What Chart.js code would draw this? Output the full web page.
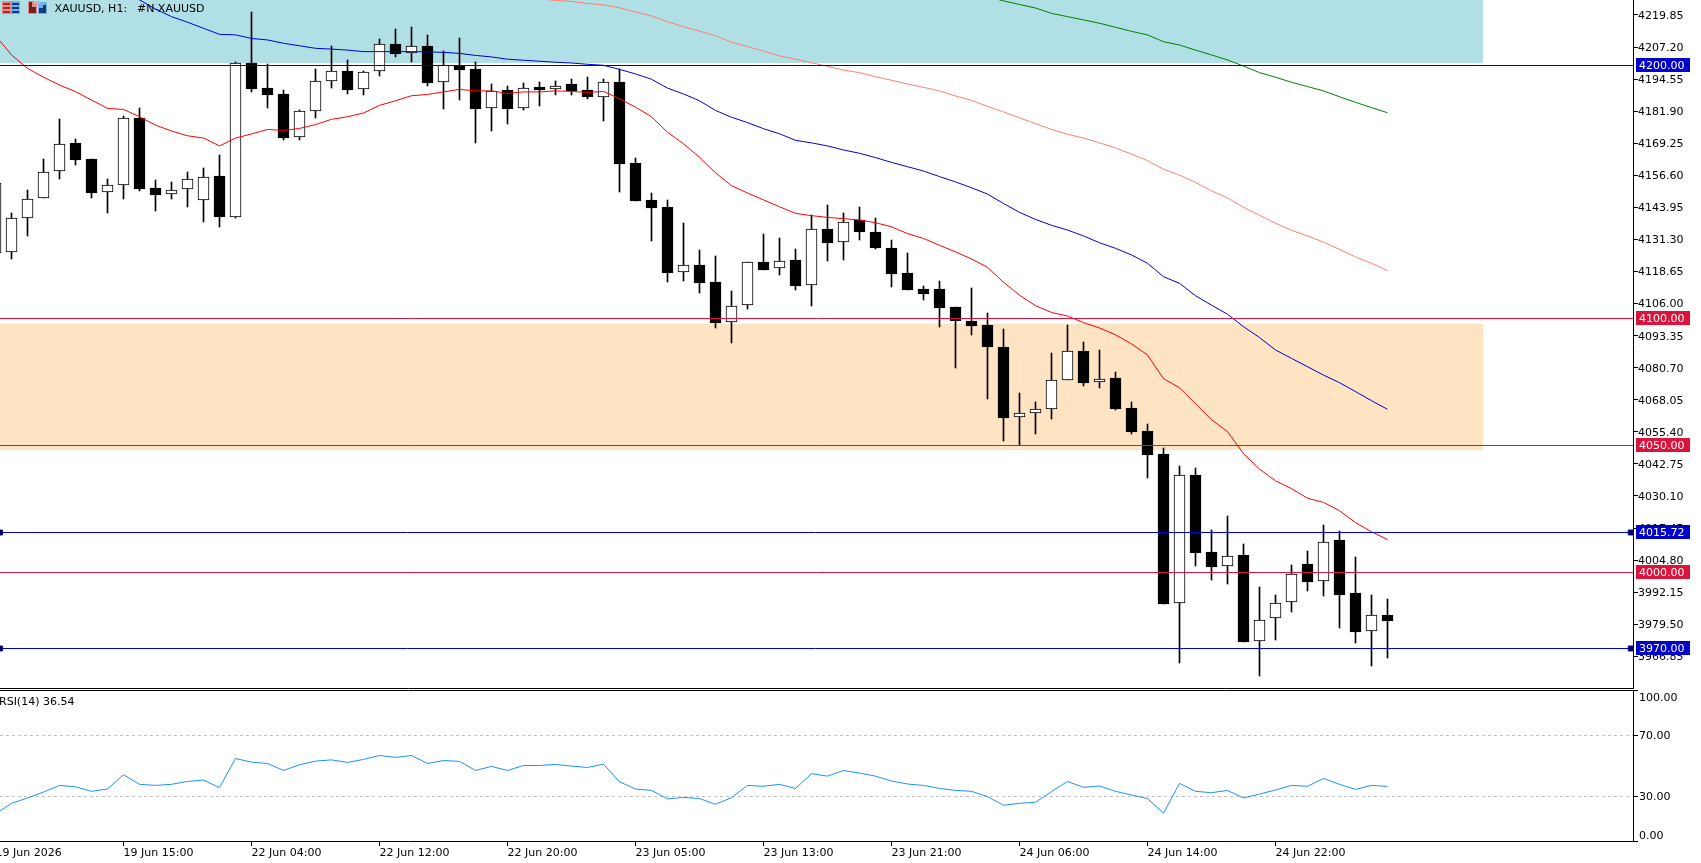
<!DOCTYPE html>
<html>
<head>
<meta charset="utf-8">
<title>XAUUSD H1</title>
<style>
  html, body { margin: 0; padding: 0; background: #fff; overflow: hidden; }
  #wrap { position: relative; width: 1701px; height: 863px; background: #fff; }
  canvas { position: absolute; left: 0; }
  #priceCanvas { top: 0; }
  #rsiCanvas { top: 688px; }
</style>
<script src="https://cdn.jsdelivr.net/npm/chart.js@4/dist/chart.umd.min.js"></script>
</head>
<body>
<div id="wrap">
  <canvas id="priceCanvas" width="1701" height="689"></canvas>
  <canvas id="rsiCanvas" width="1701" height="175"></canvas>
</div>
<script>
// Hourly XAUUSD candles, oldest first
const opens = [4125.8,4126.2,4139.6,4147.5,4158.2,4169.2,4162.9,4149.9,4152.6,4179.2,4151.5,4149.1,4151.1,4146.7,4156.2,4140.3,4200.8,4190.9,4188.5,4171.6,4181.8,4193.7,4197.6,4190.5,4197.6,4208.3,4204.7,4207.5,4193.3,4199.9,4198.4,4183.0,4190.1,4183.0,4191.3,4190.5,4192.5,4190.1,4187.4,4193.3,4161.3,4146.7,4144.0,4118.3,4121.1,4114.4,4098.6,4105.3,4122.3,4119.9,4123.1,4113.2,4135.3,4130.2,4139.1,4134.1,4127.8,4117.9,4111.6,4111.6,4104.5,4099.1,4097.4,4088.9,4061.1,4062.7,4064.3,4075.7,4087.2,4074.9,4076.5,4064.7,4055.6,4046.7,3987.7,4038.4,4007.9,4002.3,4006.7,3972.8,3981.8,3988.1,4003.1,3996.4,4012.6,3991.7,3976.7,3983.0];
const highs = [4153.7,4141.6,4150.8,4163.0,4178.7,4170.8,4162.9,4155.0,4179.9,4183.0,4154.6,4153.8,4157.8,4159.4,4164.5,4201.2,4220.9,4200.4,4190.1,4182.2,4198.4,4207.5,4202.0,4197.6,4210.2,4214.2,4215.0,4211.8,4205.5,4210.6,4201.2,4192.5,4191.7,4192.9,4193.3,4193.7,4194.5,4195.3,4194.5,4198.4,4163.3,4149.5,4146.7,4137.7,4127.0,4124.6,4110.8,4122.3,4133.3,4131.7,4127.4,4140.8,4144.8,4141.6,4144.0,4139.6,4131.0,4125.8,4112.8,4114.8,4104.5,4112.0,4102.2,4095.8,4070.6,4067.0,4086.4,4097.4,4090.7,4087.6,4078.9,4067.0,4058.4,4049.0,4041.8,4041.0,4016.5,4022.1,4011.0,3994.1,3990.9,4002.7,4008.3,4018.5,4016.2,4005.9,3990.9,3989.3];
const lows = [4125.8,4123.5,4132.8,4147.5,4155.3,4160.8,4147.8,4141.9,4147.4,4150.5,4142.7,4147.4,4144.2,4138.3,4136.3,4139.9,4189.6,4183.3,4170.7,4170.7,4179.3,4191.2,4188.8,4188.4,4195.9,4203.4,4201.4,4192.0,4182.9,4186.4,4169.5,4174.2,4177.0,4182.5,4184.1,4188.4,4188.4,4186.8,4178.2,4150.2,4146.6,4130.8,4114.6,4115.0,4110.3,4096.5,4090.6,4104.0,4119.4,4117.4,4111.5,4105.2,4122.9,4123.3,4131.2,4127.7,4112.7,4111.5,4107.5,4096.9,4080.7,4093.7,4068.5,4051.9,4050.1,4054.7,4060.6,4075.7,4073.6,4072.8,4064.2,4054.7,4037.3,3987.6,3964.3,4002.6,3997.1,3995.5,3972.6,3959.2,3973.4,3984.5,3992.7,3990.8,3978.2,3972.2,3963.2,3966.3];
const closes = [4153.7,4139.6,4147.4,4158.0,4169.1,4162.8,4149.8,4152.6,4179.1,4151.3,4149.0,4150.9,4155.3,4156.1,4140.3,4200.8,4190.8,4188.4,4171.5,4181.8,4193.7,4197.6,4190.4,4197.2,4208.3,4204.6,4207.5,4193.2,4200.0,4198.3,4182.9,4189.7,4182.9,4191.2,4190.3,4191.7,4189.9,4187.6,4193.3,4161.2,4146.6,4143.8,4118.2,4121.1,4114.2,4098.5,4105.2,4122.3,4119.4,4122.9,4113.1,4135.6,4130.0,4138.3,4134.4,4128.1,4117.8,4111.5,4109.9,4104.4,4099.3,4097.3,4089.0,4061.0,4062.7,4064.3,4075.7,4087.2,4074.8,4076.1,4064.5,4055.5,4046.4,3987.6,4038.2,4007.7,4002.2,4006.6,3972.6,3981.3,3988.0,3999.2,3996.3,4012.1,3991.2,3976.6,3983.3,3980.9];

// Moving averages; each one begins at the bar index named next to it
const redMA = [4211.7,4204.1,4198.8,4195.3,4192.2,4189.6,4186.3,4183.0,4182.6,4179.7,4176.4,4174.1,4172.2,4171.3,4168.2,4171.3,4172.9,4174.7,4174.3,4175.1,4176.6,4178.7,4179.7,4181.2,4184.2,4186.0,4188.0,4188.5,4189.5,4190.5,4189.9,4189.9,4188.9,4189.5,4189.5,4189.9,4189.7,4189.3,4189.7,4186.8,4183.5,4179.7,4173.6,4169.0,4163.7,4157.6,4152.5,4149.6,4146.9,4144.2,4141.6,4140.7,4140.0,4139.5,4139.0,4137.9,4136.3,4133.6,4131.7,4129.0,4126.4,4123.6,4120.3,4114.4,4109.3,4105.2,4102.5,4101.1,4098.5,4096.4,4093.7,4090.1,4085.7,4076.4,4072.8,4066.5,4060.2,4055.5,4046.8,4040.7,4036.1,4033.0,4029.2,4027.6,4024.3,4019.6,4016.0,4012.9];
const redStart = 0;
const blueMA = [4229.7,4225.8,4222.2,4219.2,4217.0,4214.6,4212.2,4212.0,4210.6,4210.0,4208.7,4207.7,4206.7,4206.4,4206.0,4205.4,4205.4,4205.4,4205.4,4205.3,4205.1,4204.7,4203.9,4203.3,4202.4,4202.0,4201.6,4201.2,4200.9,4200.4,4200.0,4198.4,4196.6,4194.5,4191.0,4188.7,4186.0,4182.2,4179.5,4177.4,4175.0,4173.0,4170.4,4169.4,4168.2,4166.6,4165.3,4163.6,4161.7,4160.0,4158.3,4156.1,4154.0,4151.7,4149.2,4145.5,4142.0,4139.2,4136.9,4135.0,4132.7,4130.0,4127.8,4125.2,4121.9,4116.6,4114.0,4109.1,4105.4,4101.8,4096.9,4092.6,4087.7,4084.4,4081.1,4077.8,4074.8,4071.3,4067.7,4064.3];
const blueStart = 8;
const salmonMA = [4226.2,4225.6,4225.2,4224.4,4223.8,4222.7,4221.0,4219.5,4217.2,4215.2,4213.5,4211.6,4209.1,4207.4,4205.6,4203.7,4202.4,4201.0,4199.6,4198.1,4197.1,4195.5,4194.1,4192.6,4191.3,4189.9,4187.9,4186.2,4183.8,4181.6,4179.3,4177.0,4174.7,4172.8,4171.3,4169.4,4167.4,4165.0,4162.4,4159.0,4156.7,4153.8,4150.5,4147.7,4144.0,4140.8,4137.7,4134.9,4132.7,4130.2,4127.4,4124.4,4121.9,4119.0];
const salmonStart = 34;
const greenMA = [4227.1,4225.4,4224.0,4222.6,4220.5,4219.2,4217.9,4216.6,4215.0,4213.4,4212.0,4209.3,4208.0,4206.0,4204.1,4202.1,4199.7,4197.1,4195.3,4193.3,4191.6,4189.9,4187.6,4185.4,4183.3,4181.3];
const greenStart = 62;

// RSI(14), one value per bar
const rsiValues = [18.4,25.4,28.9,32.8,37.2,36.3,33.3,34.8,44.2,37.9,37.2,37.9,39.8,40.7,35.7,54.9,52.5,51.6,47.0,50.8,53.2,54.0,52.3,54.3,56.9,55.6,56.9,51.6,53.6,53.0,47.0,49.7,47.0,50.3,50.3,51.0,49.9,49.0,51.2,39.6,34.8,33.9,28.3,29.3,28.5,24.8,29.1,37.2,36.6,37.9,35.2,44.9,43.3,47.0,45.3,43.3,40.1,38.1,37.2,35.2,33.9,33.3,29.8,24.1,25.4,26.1,33.1,39.8,35.9,36.8,33.3,30.9,28.5,18.9,38.5,33.3,32.4,33.9,28.9,31.5,34.2,37.2,36.6,41.8,37.9,34.6,37.2,36.54];
const rsiTitle = 'RSI(14) 36.54';

// Axis ticks and labels
const priceTicks = [4219.85,4207.20,4194.55,4181.90,4169.25,4156.60,4143.95,4131.30,4118.65,4106.00,4093.35,4080.70,4068.05,4055.40,4042.75,4030.10,4017.45,4004.80,3992.15,3979.50,3966.85];
const rsiTicks = [100,70,30,0];
const rsiGuides = [70,30];
const timeTicks = [0,8,16,24,32,40,48,56,64,72,80];
const timeLabels = ['19 Jun 2026','19 Jun 15:00','22 Jun 04:00','22 Jun 12:00','22 Jun 20:00','23 Jun 05:00','23 Jun 13:00','23 Jun 21:00','24 Jun 06:00','24 Jun 14:00','24 Jun 22:00'];

// Horizontal price levels
const bluePrices = [4200.00,4015.72,3970.00];
const redPrices = [4100.00,4050.00,4000.00];
const handledPrices = [4015.72,3970.00];

// Shaded supply and demand zones, as [low, high] prices
const supplyZone = [4200.9,4230.0];
const demandZone = [4048.2,4097.9];

// Visible ranges of the two panels
const priceMin = 3954.36, priceMax = 4225.76;
const barMin = 0.28125, barMax = 102.34375, zoneEnd = 92.97, handleBar = 102.2;

const BLUE = '#0000CD', CRIMSON = '#DC143C';
const FONT = '11px "DejaVu Sans"';
const AXIS_WIDTH = 68;
const MA_WIDTH = 1;

// Candle edges land on whole pixels so bodies stay crisp
class CandleScale extends Chart.LinearScale {
  getPixelForValue(v) { return Math.round(super.getPixelForValue(v)); }
}
CandleScale.id = 'candleScale';
// Level lines land on pixel centres so a 1px stroke fills one row
class LevelScale extends Chart.LinearScale {
  getPixelForValue(v) { return Math.floor(super.getPixelForValue(v)) + 0.5; }
}
LevelScale.id = 'levelScale';
Chart.register(CandleScale, LevelScale);

Chart.defaults.font.family = '"DejaVu Sans"';
Chart.defaults.font.size = 11;
Chart.defaults.color = '#000';

const bars = opens.map((_, i) => i);
const maPoints = (values, start) => values.map((y, k) => ({ x: start + k, y }));
const isUp = i => closes[i] >= opens[i];

function zoneDataset(zone, color) {
  return {
    type: 'line', order: 5, yAxisID: 'yCandle',
    data: [{ x: barMin, y: zone[1] }, { x: zoneEnd, y: zone[1] }],
    fill: { value: zone[0] }, backgroundColor: color,
    borderWidth: 0, pointRadius: 0
  };
}
function levelDataset(price, color) {
  const handled = handledPrices.includes(price);
  const xs = handled ? [barMin, handleBar, barMax] : [barMin, barMax];
  return {
    type: 'line', order: 1, yAxisID: 'yLevel',
    data: xs.map(x => ({ x, y: price })),
    borderColor: color, borderWidth: 1,
    pointStyle: 'rect',
    pointRadius: handled ? [3.5, 3.5, 0] : 0,
    pointBackgroundColor: '#000', pointBorderColor: color, pointBorderWidth: 1
  };
}
function maDataset(values, start, color) {
  return {
    type: 'line', order: 2, yAxisID: 'y',
    data: maPoints(values, start),
    borderColor: color, borderWidth: MA_WIDTH, pointRadius: 0, tension: 0
  };
}

const fixedWidth = s => { s.width = AXIS_WIDTH; s.paddingTop = 0; s.paddingBottom = 0; };

// Toolbar glyphs and caption in the top-left corner of the price panel
const pricePanelDecor = {
  id: 'pricePanelDecor',
  afterDraw(chart) {
    const { ctx, scales } = chart;
    ctx.save();
    // first glyph: two stacked-row blocks
    ctx.fillStyle = '#E98A8A'; ctx.fillRect(2, 1, 9, 13);
    ctx.fillStyle = '#6FB0F0'; ctx.fillRect(11, 1, 9, 13);
    ctx.fillStyle = '#A82A2A';
    [3, 7, 11].forEach(r => ctx.fillRect(3, r, 7, 2));
    ctx.fillStyle = '#123A78';
    [3, 7, 11].forEach(r => ctx.fillRect(12, r, 7, 2));
    // second glyph: paired bars
    ctx.fillStyle = '#E98A8A'; ctx.fillRect(28, 1, 9, 13);
    ctx.fillStyle = '#6FB0F0'; ctx.fillRect(38, 2, 9, 12);
    ctx.fillStyle = '#6E2020'; ctx.fillRect(29, 2, 3, 11); ctx.fillRect(32, 7, 4, 6);
    ctx.fillStyle = '#123A78'; ctx.fillRect(43, 5, 3, 8); ctx.fillRect(39, 8, 4, 5);
    ctx.fillStyle = '#BDBDBD'; ctx.fillRect(34, 1, 6, 3);
    // caption
    ctx.font = FONT; ctx.fillStyle = '#000';
    ctx.textAlign = 'left'; ctx.textBaseline = 'middle';
    ctx.fillText('XAUUSD, H1:', 54.5, 9.5);
    ctx.fillText('#N-XAUUSD', 137, 9.5);
    // price tags on the axis
    const tag = (price, color) => {
      const y = scales.yLevel.getPixelForValue(price) - 0.5;
      ctx.fillStyle = color; ctx.fillRect(1636, y - 7, 54, 14);
      ctx.fillStyle = '#fff';
      ctx.textBaseline = 'middle';
      ctx.fillText(price.toFixed(2), 1639, y + 1);
    };
    bluePrices.forEach(p => tag(p, BLUE));
    redPrices.forEach(p => tag(p, CRIMSON));
    ctx.restore();
  }
};

new Chart(document.getElementById('priceCanvas'), {
  type: 'bar',
  plugins: [pricePanelDecor],
  data: {
    datasets: [
      ...bluePrices.map(p => levelDataset(p, BLUE)),
      ...redPrices.map(p => levelDataset(p, CRIMSON)),
      maDataset(redMA, redStart, '#FF0000'),
      maDataset(blueMA, blueStart, BLUE),
      maDataset(salmonMA, salmonStart, '#FA8072'),
      maDataset(greenMA, greenStart, '#008000'),
      {
        order: 3, yAxisID: 'yCandle', grouped: false, barThickness: 11,
        data: bars.map(i => ({ x: i, y: [opens[i], closes[i]] })),
        backgroundColor: bars.map(i => isUp(i) ? '#fff' : '#000'),
        borderColor: '#000', borderWidth: 1, borderSkipped: false
      },
      {
        order: 4, yAxisID: 'yCandle', grouped: false, barThickness: 1,
        data: bars.map(i => ({ x: i, y: [lows[i], highs[i]] })),
        backgroundColor: '#000', borderWidth: 0
      },
      zoneDataset(supplyZone, '#B0E0E6'),
      zoneDataset(demandZone, '#FFE4C4')
    ]
  },
  options: {
    responsive: false, animation: false, devicePixelRatio: 1, events: [],
    layout: { padding: 0, autoPadding: false },
    plugins: { legend: { display: false }, tooltip: { enabled: false } },
    scales: {
      x: {
        type: 'linear', offset: false, min: barMin, max: barMax, bounds: 'data',
        grid: { display: false, offset: false },
        ticks: { display: false },
        border: { display: false },
        afterFit: s => { s.height = 1; s.paddingLeft = 0; s.paddingRight = 0; }
      },
      y: {
        type: 'linear', position: 'right', min: priceMin, max: priceMax, bounds: 'data',
        grid: { drawOnChartArea: false, tickLength: 5, tickColor: '#000' },
        border: { color: '#000', width: 1 },
        ticks: { color: '#000', padding: 0, labelOffset: 1, autoSkip: false,
                 font: { family: '"DejaVu Sans"', size: 11 },
                 callback: v => v.toFixed(2) },
        afterBuildTicks: s => { s.ticks = priceTicks.map(value => ({ value })); },
        afterFit: fixedWidth
      },
      yCandle: { type: 'candleScale', display: false, min: priceMin, max: priceMax, bounds: 'data' },
      yLevel: { type: 'levelScale', display: false, min: priceMin, max: priceMax, bounds: 'data' }
    }
  }
});

// Double rule between the panels, caption and value labels for the oscillator
const rsiPanelDecor = {
  id: 'rsiPanelDecor',
  afterDraw(chart) {
    const { ctx, chartArea, scales } = chart;
    ctx.save();
    ctx.strokeStyle = '#000'; ctx.lineWidth = 1;
    [0.5, chartArea.top + 0.5].forEach(y => {
      ctx.beginPath();
      ctx.moveTo(0, y);
      ctx.lineTo(chartArea.right + 1, y);
      ctx.stroke();
    });
    ctx.font = FONT; ctx.fillStyle = '#000';
    ctx.textAlign = 'left'; ctx.textBaseline = 'middle';
    ctx.fillText(rsiTitle, -1, 14.5);
    rsiTicks.forEach(v => {
      const py = scales.y.getPixelForValue(v);
      const y = Math.min(Math.max(py, chartArea.top + 7), chartArea.bottom - 7);
      ctx.fillText(v.toFixed(2), 1639, y + 1);
    });
    ctx.restore();
  }
};

new Chart(document.getElementById('rsiCanvas'), {
  type: 'line',
  plugins: [rsiPanelDecor],
  data: {
    datasets: [{
      data: rsiValues.map((y, x) => ({ x, y })),
      borderColor: '#1E90FF', borderWidth: MA_WIDTH, pointRadius: 0, tension: 0
    }]
  },
  options: {
    responsive: false, animation: false, devicePixelRatio: 1, events: [],
    layout: { padding: { top: 2 }, autoPadding: false },
    plugins: { legend: { display: false }, tooltip: { enabled: false } },
    scales: {
      x: {
        type: 'linear', min: barMin, max: barMax, bounds: 'data',
        grid: { drawOnChartArea: false, tickLength: 4, tickColor: '#000' },
        border: { color: '#000', width: 1 },
        ticks: {
          color: '#000', align: 'start', autoSkip: false, maxRotation: 0, minRotation: 0, padding: 1,
          font: { family: '"DejaVu Sans"', size: 11 },
          callback: (v, idx) => timeLabels[idx]
        },
        afterBuildTicks: s => { s.ticks = timeTicks.map(value => ({ value })); },
        afterFit: s => { s.height = 21.1; s.paddingLeft = 0; s.paddingRight = 0; }
      },
      y: {
        type: 'linear', position: 'right', min: 0, max: 100, bounds: 'data',
        grid: {
          tickLength: 5, tickColor: '#000',
          color: c => (c.tick && rsiGuides.includes(c.tick.value)) ? '#C0C0C0' : 'rgba(0,0,0,0)'
        },
        border: { color: '#000', width: 1, dash: [3, 3] },
        ticks: { display: false },
        afterBuildTicks: s => { s.ticks = rsiTicks.map(value => ({ value })); },
        afterFit: fixedWidth
      }
    }
  }
});
</script>
</body>
</html>
